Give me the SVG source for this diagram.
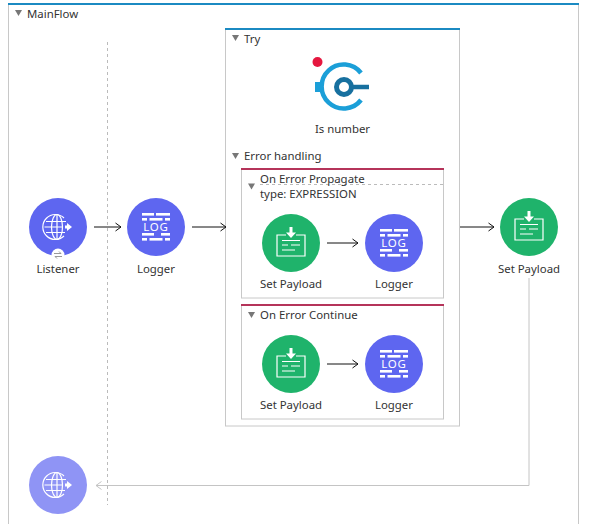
<svg xmlns="http://www.w3.org/2000/svg" width="593" height="524" viewBox="0 0 593 524">
<defs>
<style>
text{font-family:"Noto Sans","Open Sans","Liberation Sans",sans-serif;font-size:11.4px;fill:#333}
.m{text-anchor:middle}
.frame{fill:#fff;stroke:#c8c8c8;stroke-width:1}
.blue{stroke:#1b8ac2;stroke-width:2;fill:none}
.red{stroke:#b5345a;stroke-width:2;fill:none}
.tri{fill:#777}
.conn{fill:none;stroke:#111;stroke-width:1}
.ret{fill:none;stroke:#c4c4c4;stroke-width:1}
.dash{fill:none;stroke:#bbb;stroke-width:1;stroke-dasharray:3 3}
.ic{fill:none;stroke:#fff;stroke-width:1.200}
.icf{fill:#fff}
</style>
<marker id="a" markerWidth="8" markerHeight="10" refX="6.500" refY="5" orient="auto" markerUnits="userSpaceOnUse"><path d="M1 1 L6.500 5 L1 9" fill="none" stroke="#111" stroke-width="1"/></marker>
<marker id="b" markerWidth="8" markerHeight="10" refX="6.500" refY="5" orient="auto" markerUnits="userSpaceOnUse"><path d="M1 1 L6.500 5 L1 9" fill="none" stroke="#c4c4c4" stroke-width="1"/></marker>
<symbol id="logger" viewBox="-29 -29 58 58" overflow="visible">
<circle r="29" fill="#5e66f0"/>
<g class="icf">
<rect x="-14" y="-14" width="12" height="2.600"/><rect x="0" y="-14" width="14" height="2.600"/>
<rect x="-14" y="-9" width="5" height="2.600"/><rect x="-6.500" y="-9" width="13" height="2.600"/><rect x="9" y="-9" width="5" height="2.600"/>
<rect x="-14" y="6" width="12" height="2.600"/><rect x="5" y="6" width="9" height="2.600"/>
<rect x="-14" y="11" width="5" height="2.600"/><rect x="-6.500" y="11" width="13" height="2.600"/><rect x="9" y="11" width="5" height="2.600"/>
</g>
<text x="0" y="4" class="m" style="fill:#fff;font-size:11.500px;letter-spacing:.8px">LOG</text>
</symbol>
<symbol id="payload" viewBox="-29 -29 58 58" overflow="visible">
<circle r="29" fill="#1fb36b"/>
<path class="ic" d="M-5 -8 H-14 V13 H14 V-8 H5"/>
<path class="icf" d="M-1.500 -16 H1.500 V-10.500 H5 L0 -5 L-5 -10.500 H-1.500Z"/>
<path class="ic" d="M-9 -2.500 H9 M-9 2 H-3 M0 2 H9 M-9 7 H4"/>
</symbol>
<symbol id="globe" viewBox="-29 -29 58 58" overflow="visible">
<g class="ic">
<path d="M6 -9 A12.500 12.500 0 1 0 6 9"/>
<ellipse cx="-1" cy="0" rx="5.500" ry="12.500"/>
<path d="M-1 -12.500 V12.500 M-12 -5.500 H8 M-13.500 0 H5 M-12 5.500 H7"/>
</g>
<path class="icf" d="M7 -1.500 H9 V-4 L14 0 L9 4 V1.500 H7Z"/>
</symbol>
</defs>
<rect width="593" height="524" fill="#fff"/>

<g id="mainflow">
<path class="frame" d="M8.500 4 V524 M578.500 4 V524"/>
<path class="blue" d="M8 4 H579"/>
<path class="tri" d="M15 10 H22 L18.500 16Z"/>
<text x="27" y="18">MainFlow</text>
</g>
<path class="dash" d="M107.500 42 V505"/>

<g id="try">
<rect class="frame" x="225.500" y="29.500" width="234" height="396.500"/>
<path class="blue" d="M225 29 H460"/>
<path class="tri" d="M232 35 H239 L235.500 41Z"/>
<text x="244" y="43">Try</text>
<path class="tri" d="M232 153 H239 L235.500 159Z"/>
<text x="244" y="160">Error handling</text>
</g>

<g id="is-number">
<path d="M361 73 A22 22 0 1 0 361 100" fill="none" stroke="#1b9fd8" stroke-width="4.500"/>
<rect x="315" y="82" width="6" height="10" fill="#1b9fd8"/>
<circle cx="344" cy="87" r="7.500" fill="none" stroke="#17709f" stroke-width="5"/>
<path d="M351 87 H369" stroke="#17709f" stroke-width="4.500"/>
<circle cx="317.500" cy="62" r="5" fill="#e5173f"/>
<text x="342.500" y="133" class="m">Is number</text>
</g>

<g id="on-error-propagate">
<rect class="frame" x="241.500" y="169.500" width="202" height="128.500"/>
<path class="red" d="M241 169 H444"/>
<path class="tri" d="M248 183.500 H255 L251.500 189.500Z"/>
<path class="dash" d="M260 184.500 H443"/>
<text x="260" y="183">On Error Propagate</text>
<text x="260" y="198">type: EXPRESSION</text>
</g>

<g id="on-error-continue">
<rect class="frame" x="241.500" y="305.500" width="202" height="113.500"/>
<path class="red" d="M241 305 H444"/>
<path class="tri" d="M248 312 H255 L251.500 318Z"/>
<text x="260" y="319">On Error Continue</text>
</g>

<g id="connectors">
<path class="conn" marker-end="url(#a)" d="M94 227 H121"/>
<path class="conn" marker-end="url(#a)" d="M192 227 H226"/>
<path class="conn" marker-end="url(#a)" d="M327 243 H358"/>
<path class="conn" marker-end="url(#a)" d="M327 364 H358"/>
<path class="conn" marker-end="url(#a)" d="M460 227 H494"/>
<path class="ret" marker-end="url(#b)" d="M529 278 V485.500 H96"/>
</g>

<g id="listener">
<circle cx="58" cy="227" r="29" fill="#5e66f0"/>
<use href="#globe" x="-29" y="-29" width="58" height="58" transform="translate(58 227)"/>
<circle cx="58" cy="255" r="6.500" fill="#fff"/>
<path d="M54 253.500 H61 L59 251.500 M62 256.500 H55 L57 258.500" fill="none" stroke="#999" stroke-width="1"/>
<text x="58" y="273" class="m">Listener</text>
</g>
<g id="logger-1">
<use href="#logger" x="-29" y="-29" width="58" height="58" transform="translate(156 227)"/>
<text x="156" y="273" class="m">Logger</text>
</g>
<g id="set-payload-1">
<use href="#payload" x="-29" y="-29" width="58" height="58" transform="translate(291 243)"/>
<text x="291" y="288" class="m">Set Payload</text>
</g>
<g id="logger-2">
<use href="#logger" x="-29" y="-29" width="58" height="58" transform="translate(394 243)"/>
<text x="394" y="288" class="m">Logger</text>
</g>
<g id="set-payload-2">
<use href="#payload" x="-29" y="-29" width="58" height="58" transform="translate(291 364)"/>
<text x="291" y="409" class="m">Set Payload</text>
</g>
<g id="logger-3">
<use href="#logger" x="-29" y="-29" width="58" height="58" transform="translate(394 364)"/>
<text x="394" y="409" class="m">Logger</text>
</g>
<g id="set-payload-3">
<use href="#payload" x="-29" y="-29" width="58" height="58" transform="translate(529 227)"/>
<text x="529" y="273" class="m">Set Payload</text>
</g>
<g id="listener-response">
<circle cx="58" cy="485" r="29" fill="#8f94f5"/>
<use href="#globe" x="-29" y="-29" width="58" height="58" transform="translate(58 485)"/>
</g>
</svg>
